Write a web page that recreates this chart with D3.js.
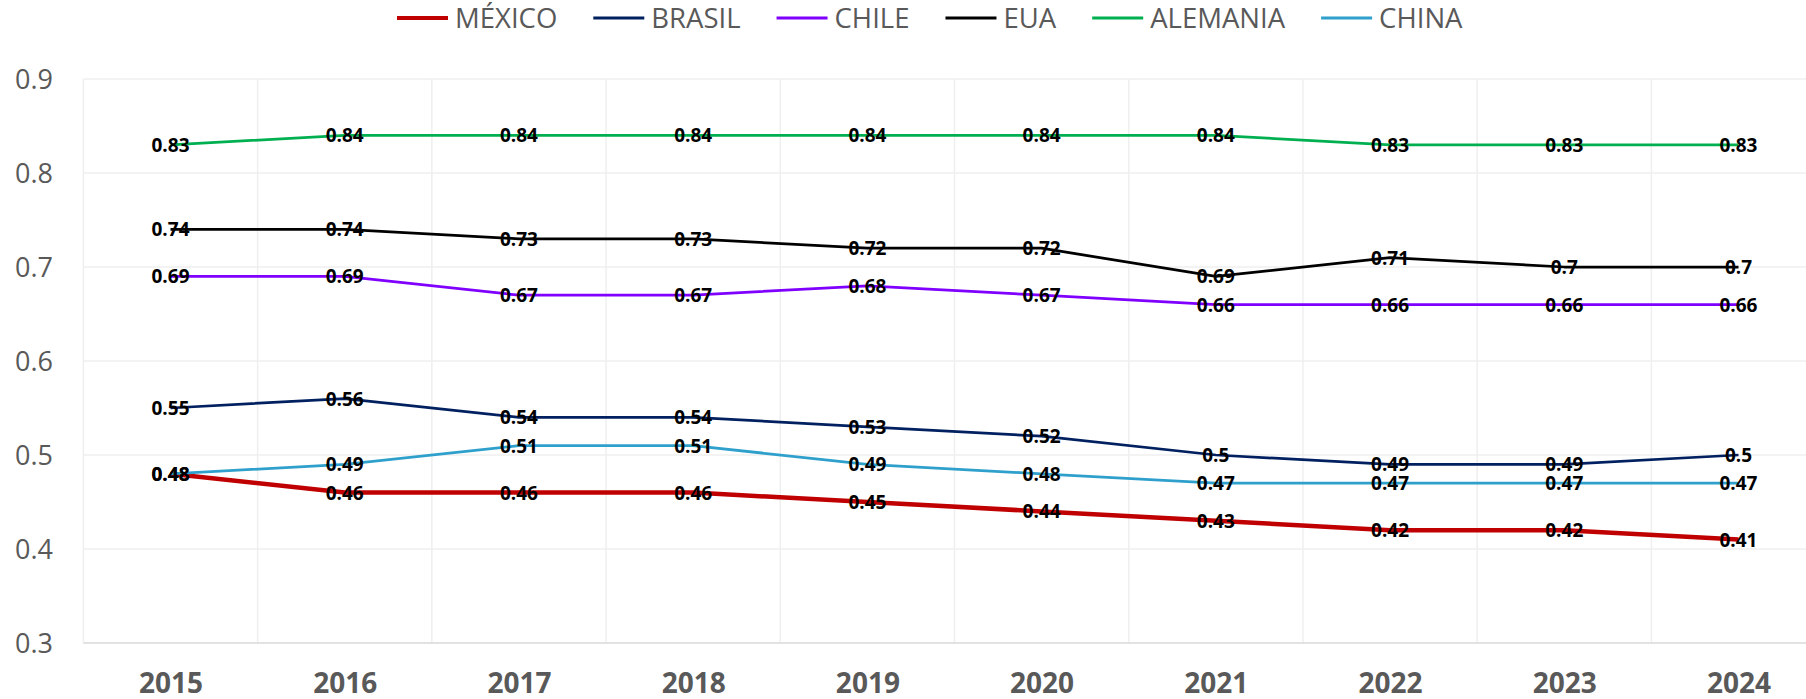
<!DOCTYPE html>
<html>
<head>
<meta charset="utf-8">
<script src="https://cdn.jsdelivr.net/npm/d3@7"></script>
<style>
  html, body { margin: 0; padding: 0; background: #fff; }
  svg { display: block; font-family: "Open Sans", sans-serif; }
</style>
</head>
<body>
<script>
// chart data
const years = ["2015", "2016", "2017", "2018", "2019", "2020", "2021", "2022", "2023", "2024"];
const countries = ["MÉXICO", "BRASIL", "CHILE", "EUA", "ALEMANIA", "CHINA"];
const mexico   = [0.48, 0.46, 0.46, 0.46, 0.45, 0.44, 0.43, 0.42, 0.42, 0.41];
const brasil   = [0.55, 0.56, 0.54, 0.54, 0.53, 0.52, 0.5, 0.49, 0.49, 0.5];
const chile    = [0.69, 0.69, 0.67, 0.67, 0.68, 0.67, 0.66, 0.66, 0.66, 0.66];
const eua      = [0.74, 0.74, 0.73, 0.73, 0.72, 0.72, 0.69, 0.71, 0.7, 0.7];
const alemania = [0.83, 0.84, 0.84, 0.84, 0.84, 0.84, 0.84, 0.83, 0.83, 0.83];
const china    = [0.48, 0.49, 0.51, 0.51, 0.49, 0.48, 0.47, 0.47, 0.47, 0.47];
const yTicks = [0.3, 0.4, 0.5, 0.6, 0.7, 0.8, 0.9];

const seriesValues = [mexico, brasil, chile, eua, alemania, china];
const colors = ["#c00000", "#002060", "#7f00ff", "#000000", "#00b050", "#2fa0cc"];
const widths = [4.5, 2.75, 2.75, 2.75, 2.75, 2.75];

const width = 1806, height = 699;
const plot = { left: 83.4, right: 1825.6, top: 79, bottom: 643 };

const svg = d3.select("body").append("svg")
    .attr("width", width)
    .attr("height", height);

const x = d3.scalePoint()
    .domain(years)
    .range([plot.left, plot.right])
    .padding(0.5);

const y = d3.scaleLinear()
    .domain([0.3, 0.9])
    .range([plot.bottom, plot.top]);

// gridlines
const grid = svg.append("g");
grid.selectAll(".hgrid")
    .data(yTicks.slice(1))
    .join("line")
    .attr("x1", plot.left).attr("x2", plot.right)
    .attr("y1", d => y(d)).attr("y2", d => y(d))
    .attr("stroke", "#efefef")
    .attr("stroke-width", 1.5);

const step = x.step();
grid.selectAll(".vgrid")
    .data(d3.range(years.length + 1))
    .join("line")
    .attr("x1", i => plot.left + i * step).attr("x2", i => plot.left + i * step)
    .attr("y1", plot.top).attr("y2", plot.bottom)
    .attr("stroke", "#efefef")
    .attr("stroke-width", 1.5);

// bottom axis line
svg.append("line")
    .attr("x1", plot.left).attr("x2", plot.right)
    .attr("y1", plot.bottom).attr("y2", plot.bottom)
    .attr("stroke", "#d9d9d9")
    .attr("stroke-width", 1.5);

// y axis labels
const yAxis = d3.axisLeft(y).tickValues(yTicks).tickSize(0).tickPadding(0).tickFormat(d3.format(".1f"));
svg.append("g")
    .attr("transform", "translate(53,0)")
    .call(yAxis)
    .call(g => g.select(".domain").remove())
    .selectAll("text")
    .attr("font-family", "'Open Sans', sans-serif")
    .attr("font-size", 27)
    .attr("fill", "#595959")
    .attr("dy", "0.36em");

// x axis labels
const xAxis = d3.axisBottom(x).tickSize(0).tickPadding(0);
svg.append("g")
    .attr("transform", `translate(0,${plot.bottom})`)
    .call(xAxis)
    .call(g => g.select(".domain").remove())
    .selectAll("text")
    .attr("font-family", "'Open Sans', sans-serif")
    .attr("font-size", 28)
    .attr("font-weight", "bold")
    .attr("fill", "#595959")
    .attr("y", 50)
    .attr("dy", 0);

// lines
const line = d3.line()
    .x((d, i) => x(years[i]))
    .y(d => y(d));

seriesValues.forEach((vals, s) => {
    svg.append("path")
        .datum(vals)
        .attr("d", line)
        .attr("fill", "none")
        .attr("stroke", colors[s])
        .attr("stroke-width", widths[s])
        .attr("stroke-linejoin", "round");
});

// data labels
seriesValues.forEach((vals, s) => {
    svg.append("g").selectAll("text")
        .data(vals)
        .join("text")
        .attr("x", (d, i) => x(years[i]))
        .attr("y", d => y(d) + 7)
        .attr("text-anchor", "middle")
        .attr("font-size", 19)
        .attr("font-weight", "bold")
        .attr("fill", "#000")
        .text(d => String(d));
});

// legend
const legend = svg.append("g");
let lx = 397;
countries.forEach((name, s) => {
    legend.append("line")
        .attr("x1", lx).attr("x2", lx + 51)
        .attr("y1", 18).attr("y2", 18)
        .attr("stroke", colors[s])
        .attr("stroke-width", s === 0 ? 4 : 3);
    const t = legend.append("text")
        .attr("x", lx + 58)
        .attr("y", 28)
        .attr("font-size", 27.5)
        .attr("fill", "#595959")
        .text(name);
    lx = lx + 58 + t.node().getComputedTextLength() + 36;
});
</script>
</body>
</html>
